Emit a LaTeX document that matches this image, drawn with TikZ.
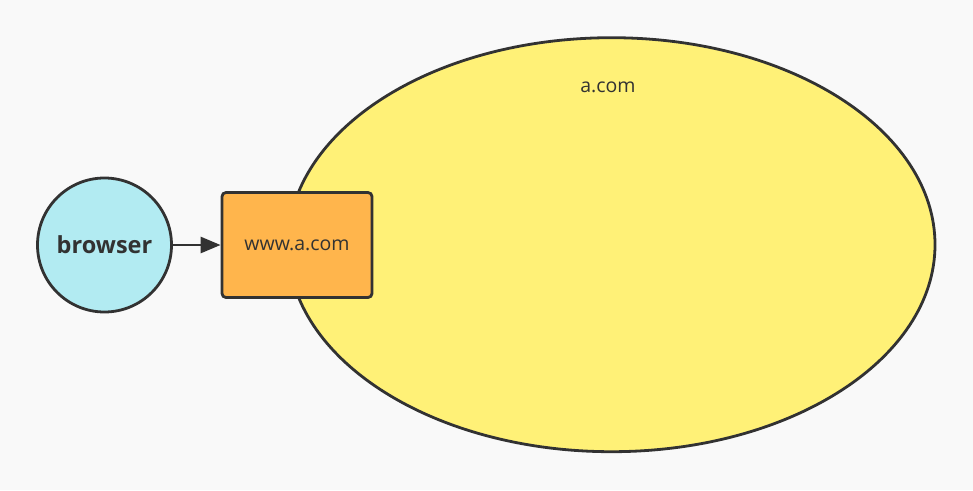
\documentclass[tikz,border=0pt]{standalone}
\usepackage{fontspec}
\setmainfont{Open Sans}
\usetikzlibrary{arrows.meta,shapes.geometric}
\definecolor{bg}{HTML}{F9F9F9}
\definecolor{stroke}{HTML}{323232}
\definecolor{ellfill}{HTML}{FFF177}
\definecolor{circfill}{HTML}{B2EBF2}
\definecolor{rectfill}{HTML}{FFB54C}
\begin{document}
\begin{tikzpicture}[x=1pt,y=-1pt,
  shapeline/.style={draw=stroke,line width=2.8pt},
  lbl/.style={text=stroke,font=\fontsize{19.5}{22}\selectfont},
]
\fill[bg] (0,0) rectangle (973,490);
\useasboundingbox (0,0) rectangle (973,490);
\node[shapeline,fill=ellfill,ellipse,minimum width=647pt,minimum height=414pt,inner sep=0pt] (dom) at (611.5,244.7) {};
\node[lbl] (domlbl) at (608,87) {a.com};
\node[shapeline,fill=circfill,circle,minimum size=134pt,inner sep=0pt,text=stroke,font=\fontsize{23.5}{26}\selectfont\bfseries] (browser) at (104.5,245) {browser};
\node[shapeline,fill=rectfill,rounded corners=4pt,minimum width=150pt,minimum height=105pt,inner sep=0pt,lbl] (www) at (297,245) {www.a.com};
\draw[draw=stroke,line width=2.8pt,-{Triangle[length=20pt,width=16pt,fill=stroke,color=stroke]}] (browser) -- (www);
\end{tikzpicture}
\end{document}
